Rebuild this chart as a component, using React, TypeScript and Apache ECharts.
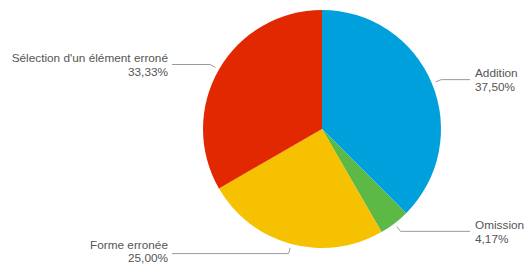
import React, { useEffect, useRef } from "react";
import * as echarts from "echarts";

const categories = ["Addition", "Omission", "Forme erronée", "Sélection d'un élément erroné"];
const counts = [9, 1, 6, 8];
const colors = ["#00a0dc", "#5db946", "#f6c100", "#e12800"];

const CX = 322;
const CY = 129;
const R = 119;
const RIGHT_LINE_END = 470;
const LEFT_LINE_END = 172;

export default function App() {
  const ref = useRef<HTMLDivElement>(null);
  useEffect(() => {
    document.body.style.margin = "0";
    const chart = echarts.init(ref.current!, null, { renderer: "svg" });
    chart.setOption({
      animation: false,
      backgroundColor: "#ffffff",
      series: [
        {
          type: "pie",
          center: [CX, CY],
          radius: R,
          startAngle: 90,
          clockwise: true,
          avoidLabelOverlap: false,
          data: categories.map((name, i) => ({
            name,
            value: counts[i],
            itemStyle: { color: colors[i] },
          })),
          label: {
            show: true,
            position: "outside",
            fontFamily: "Liberation Sans, Arial, sans-serif",
            fontSize: 11.8,
            lineHeight: 13.5,
            color: "#555555",
            formatter: (p: any) => `${p.name}\n${p.percent.toFixed(2).replace(".", ",")}%`,
          },
          labelLine: {
            show: true,
            length: 10,
            length2: 20,
            smooth: false,
            lineStyle: { color: "#9a9a9a", width: 1 },
          },
          labelLayout: (params: any) => {
            const pts = params.labelLinePoints;
            if (!pts || pts.length < 2) return {};
            const p0 = pts[0];
            const p1 = pts[1];
            const dx = p1[0] - p0[0];
            const dy = p1[1] - p0[1];
            const len = Math.sqrt(dx * dx + dy * dy) || 1;
            const gap = Math.min(4, len * 0.5);
            const isRight = p1[0] >= CX;
            const endX = isRight ? RIGHT_LINE_END : LEFT_LINE_END;
            return {
              x: isRight ? endX + 5 : endX - 4,
              y: Math.min(p1[1] + 0.5, 251.5),
              align: isRight ? "left" : "right",
              verticalAlign: "middle",
              labelLinePoints: [
                [p0[0] + (dx / len) * gap, p0[1] + (dy / len) * gap],
                [p1[0], p1[1]],
                [endX, p1[1]],
              ],
            };
          },
        },
      ],
    });
    return () => chart.dispose();
  }, []);
  return <div ref={ref} style={{ width: 525, height: 266 }} />;
}
